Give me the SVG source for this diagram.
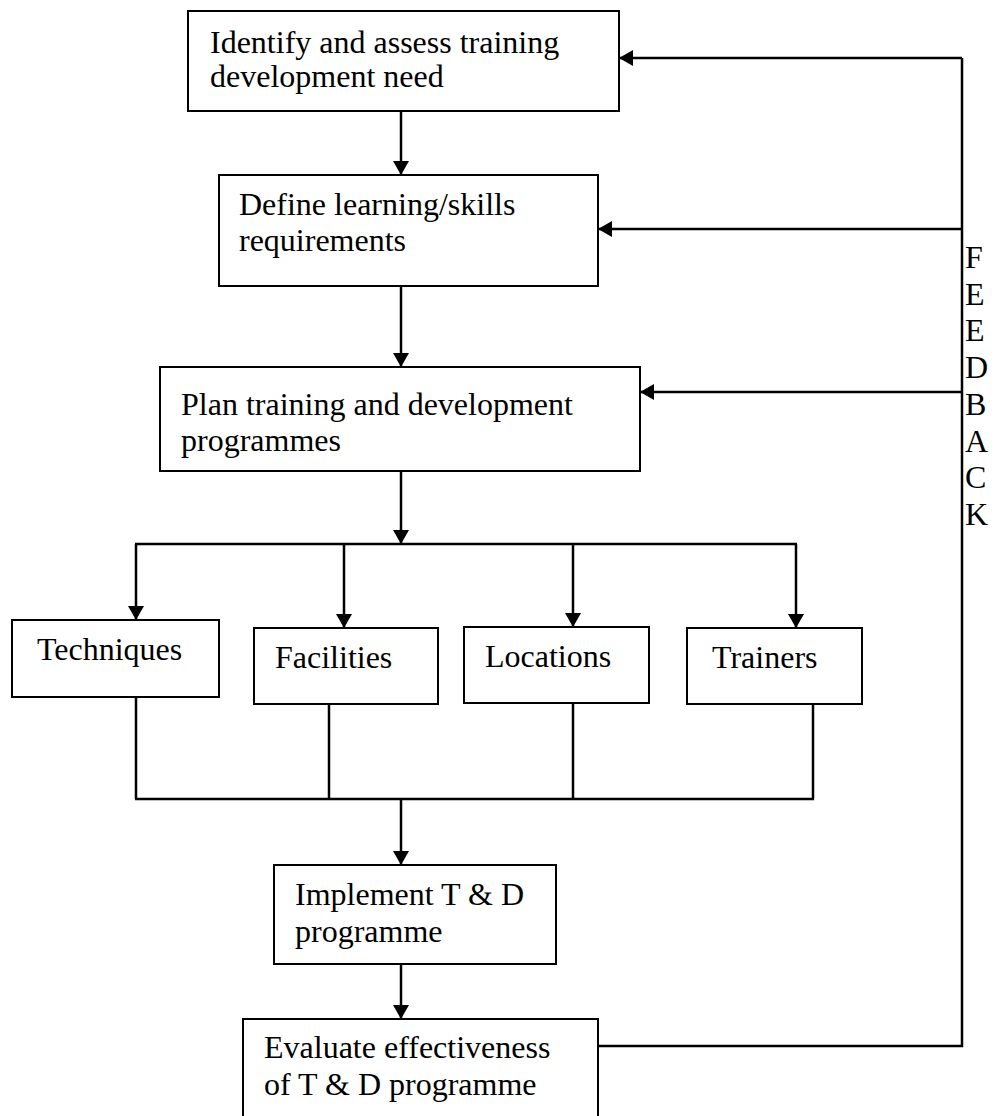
<svg xmlns="http://www.w3.org/2000/svg" width="995" height="1116" viewBox="0 0 995 1116">
<style>
.box{fill:#fff;stroke:#000;stroke-width:2}
.t{font-family:"Liberation Serif","Times New Roman",serif;font-size:32px;fill:#000}
.c{fill:none;stroke:#000;stroke-width:2.5}
.a{marker-end:url(#ah)}
</style>
<defs>
<marker id="ah" markerUnits="userSpaceOnUse" markerWidth="16" markerHeight="16" refX="14" refY="8" orient="auto">
<path d="M0,0 L14,8 L0,16 z" fill="#000"/>
</marker>
</defs>
<rect width="995" height="1116" fill="#fff"/>
<g id="connectors">
<line class="c a" x1="401" y1="111" x2="401" y2="175"/>
<line class="c a" x1="401" y1="286" x2="401" y2="367"/>
<line class="c a" x1="401" y1="471" x2="401" y2="544"/>
<line class="c" x1="135" y1="544" x2="797" y2="544"/>
<line class="c a" x1="136" y1="544" x2="136" y2="620"/>
<line class="c a" x1="344" y1="544" x2="344" y2="628"/>
<line class="c a" x1="573" y1="544" x2="573" y2="627"/>
<line class="c a" x1="796" y1="544" x2="796" y2="628"/>
<line class="c" x1="136" y1="697" x2="136" y2="799"/>
<line class="c" x1="329" y1="704" x2="329" y2="800"/>
<line class="c" x1="573" y1="699" x2="573" y2="799"/>
<line class="c" x1="813" y1="704" x2="813" y2="799"/>
<line class="c" x1="135" y1="799" x2="814" y2="799"/>
<line class="c a" x1="401" y1="799" x2="401" y2="865"/>
<line class="c a" x1="401" y1="964" x2="401" y2="1019"/>
<polyline class="c" points="598,1046 962,1046 962,58"/>
<line class="c a" x1="962" y1="58" x2="619" y2="58"/>
<line class="c a" x1="962" y1="229" x2="598" y2="229"/>
<line class="c a" x1="962" y1="392" x2="640" y2="392"/>
</g>
<g id="n1"><rect class="box" x="188" y="11" width="431" height="100"/><text class="t" x="210" y="53">Identify and assess training</text><text class="t" x="210" y="87">development need</text></g>
<g id="n2"><rect class="box" x="219" y="175" width="379" height="111"/><text class="t" x="239" y="215">Define learning/skills</text><text class="t" x="239" y="251">requirements</text></g>
<g id="n3"><rect class="box" x="160" y="367" width="480" height="104"/><text class="t" x="181" y="415">Plan training and development</text><text class="t" x="181" y="451">programmes</text></g>
<g id="n4"><rect class="box" x="12" y="620" width="207" height="77"/><text class="t" x="37" y="660">Techniques</text></g>
<g id="n5"><rect class="box" x="254" y="628" width="184" height="76"/><text class="t" x="275" y="668">Facilities</text></g>
<g id="n6"><rect class="box" x="464" y="627" width="185" height="76"/><text class="t" x="485" y="667">Locations</text></g>
<g id="n7"><rect class="box" x="687" y="628" width="175" height="76"/><text class="t" x="712" y="668">Trainers</text></g>
<g id="n8"><rect class="box" x="274" y="865" width="282" height="99"/><text class="t" x="295" y="905">Implement T &amp; D</text><text class="t" x="295" y="942">programme</text></g>
<g id="n9"><rect class="box" x="243" y="1019" width="355" height="110"/><text class="t" x="264" y="1058">Evaluate effectiveness</text><text class="t" x="264" y="1095">of T &amp; D programme</text></g>
<g id="feedback">
<text class="t" x="965" y="268">F</text>
<text class="t" x="965" y="305">E</text>
<text class="t" x="965" y="341">E</text>
<text class="t" x="965" y="378">D</text>
<text class="t" x="965" y="415">B</text>
<text class="t" x="965" y="452">A</text>
<text class="t" x="965" y="488">C</text>
<text class="t" x="965" y="525">K</text>
</g>
</svg>
